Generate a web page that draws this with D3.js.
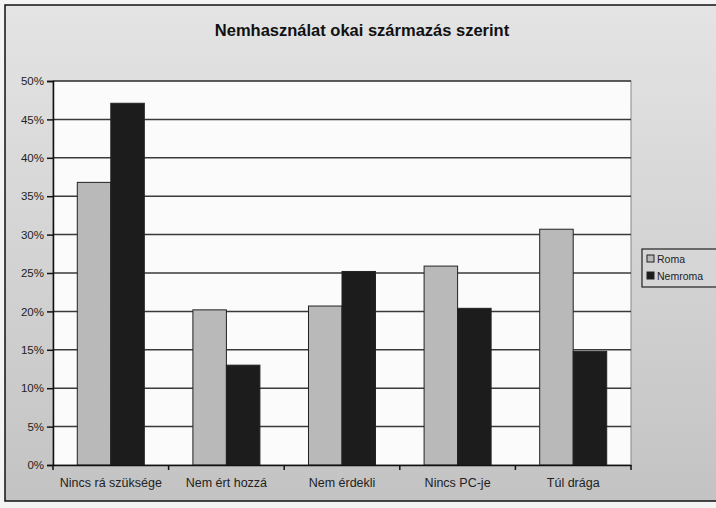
<!DOCTYPE html>
<html>
<head>
<meta charset="utf-8">
<script src="https://cdn.jsdelivr.net/npm/d3@7"></script>
<style>
  body { margin: 0; background: #f4f4f4; }
  svg { display: block; font-family: "Liberation Sans", Arial, sans-serif; }
</style>
</head>
<body>
<svg width="716" height="508"></svg>
<script>
    let categories = ["Nincs rá szüksége", "Nem ért hozzá", "Nem érdekli", "Nincs PC-je", "Túl drága"];
    let seriesNames = ["Roma", "Nemroma"];
    let romaValues = [0.368, 0.202, 0.207, 0.259, 0.307];
    let nemromaValues = [0.471, 0.130, 0.252, 0.204, 0.148];
    let yTicks = [0, 0.05, 0.10, 0.15, 0.20, 0.25, 0.30, 0.35, 0.40, 0.45, 0.50];
    let titleText = "Nemhasználat okai származás szerint";

(function() {
    'use strict';
    let rows = categories.map(function(c, i) {
        return {cat: c, Roma: romaValues[i], Nemroma: nemromaValues[i]};
    });

    let svg = d3.select("svg");
    let colors = {Roma: "#b9b9b9", Nemroma: "#1c1c1c"};

    let plotLeft = 53, plotRight = 631, plotTop = 81, plotBottom = 465;

    // chart frame background (scan looks darker toward the bottom)
    let defs = svg.append("defs");
    let grad = defs.append("linearGradient").attr("id", "bg")
        .attr("x1", 0).attr("y1", 0).attr("x2", 0).attr("y2", 1);
    grad.append("stop").attr("offset", "0").attr("stop-color", "#e4e4e4");
    grad.append("stop").attr("offset", "1").attr("stop-color", "#c3c3c3");

    svg.append("rect")
        .attr("x", 5).attr("y", 5).attr("width", 720).attr("height", 496)
        .attr("fill", "url(#bg)").attr("stroke", "#111").attr("stroke-width", 1.5);

    svg.append("text")
        .attr("x", 362).attr("y", 36)
        .attr("text-anchor", "middle")
        .style("font-size", "16.5px").style("font-weight", "bold").attr("fill", "#111")
        .text(titleText);

    let yScale = d3.scaleLinear().domain([0, 0.5]).range([plotBottom, plotTop]);
    let x0 = d3.scaleBand().domain(categories).range([plotLeft, plotRight]).padding(0);
    let x1 = d3.scaleBand().domain(seriesNames).range([0, x0.bandwidth()]).paddingInner(0).paddingOuter(0.725);

    // plot area
    svg.append("rect")
        .attr("x", plotLeft).attr("y", plotTop).attr("width", plotRight - plotLeft).attr("height", plotBottom - plotTop)
        .attr("fill", "#fbfbfb").attr("stroke", "#888").attr("stroke-width", 1);

    svg.append("g").selectAll("line").data(yTicks.slice(1)).join("line")
        .attr("x1", plotLeft).attr("x2", plotRight)
        .attr("y1", function(d) { return yScale(d); })
        .attr("y2", function(d) { return yScale(d); })
        .attr("stroke", "#3a3a3a").attr("stroke-width", 1.5);

    // bars
    svg.append("g").selectAll("g").data(rows).join("g")
        .attr("transform", function(d) { return `translate(${x0(d.cat)},0)`; })
        .selectAll("rect")
        .data(function(d) { return seriesNames.map(function(k) { return {key: k, value: d[k]}; }); })
        .join("rect")
        .attr("x", function(d) { return x1(d.key); })
        .attr("y", function(d) { return yScale(d.value); })
        .attr("width", x1.bandwidth())
        .attr("height", function(d) { return plotBottom - yScale(d.value); })
        .attr("fill", function(d) { return colors[d.key]; })
        .attr("stroke", "#222").attr("stroke-width", 1);

    let yAxis = d3.axisLeft(yScale).tickValues(yTicks).tickFormat(d3.format(".0%")).tickSize(6).tickPadding(3);
    let gy = svg.append("g").attr("transform", `translate(${plotLeft},0)`).call(yAxis);
    gy.select(".domain").attr("stroke", "#111").attr("stroke-width", 1.5);
    gy.selectAll(".tick line").attr("stroke", "#111").attr("stroke-width", 1.5);
    gy.selectAll("text").style("font-size", "11.5px").attr("fill", "#222");

    let xAxis = d3.axisBottom(x0).tickSize(0).tickPadding(13);
    let gx = svg.append("g").attr("transform", `translate(0,${plotBottom})`).call(xAxis);
    gx.select(".domain").attr("stroke", "#111").attr("stroke-width", 1.5);
    gx.selectAll("text").style("font-size", "12.5px").attr("fill", "#222");

    // category boundary ticks
    gx.selectAll(".sep").data(categories.concat([null])).join("line")
        .attr("class", "sep")
        .attr("x1", function(d, i) { return plotLeft + i * x0.step(); })
        .attr("x2", function(d, i) { return plotLeft + i * x0.step(); })
        .attr("y1", 0).attr("y2", 5)
        .attr("stroke", "#111").attr("stroke-width", 1.5);

    // legend
    let lg = svg.append("g").attr("transform", "translate(642,249)");
    lg.append("rect").attr("width", 90).attr("height", 38)
        .attr("fill", "#d6d6d6").attr("stroke", "#222").attr("stroke-width", 1.2);
    let items = lg.selectAll("g.item").data(seriesNames).join("g")
        .attr("class", "item")
        .attr("transform", function(d, i) { return `translate(5,${10 + i * 17})`; });
    items.append("rect").attr("x", 0).attr("y", -4).attr("width", 7).attr("height", 7)
        .attr("fill", function(d) { return colors[d]; }).attr("stroke", "#222");
    items.append("text").attr("x", 10).attr("y", 4)
        .style("font-size", "10.5px").attr("fill", "#222")
        .text(function(d) { return d; });
})();
</script>
</body>
</html>
